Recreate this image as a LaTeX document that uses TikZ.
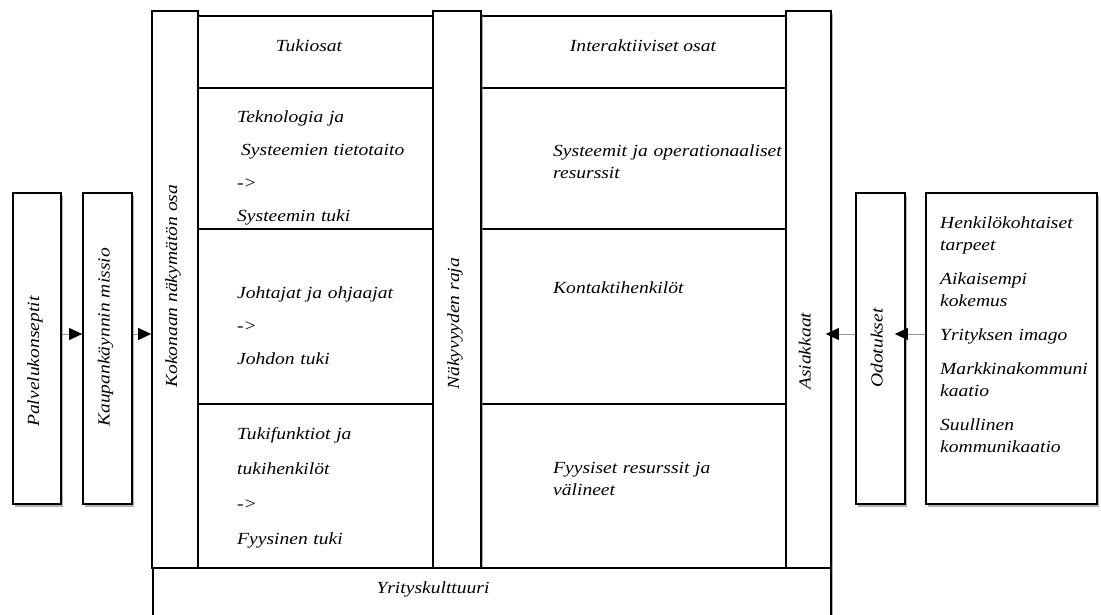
\documentclass[tikz,border=0pt]{standalone}
\usepackage{fontspec}
\usepackage{xcolor}
\usetikzlibrary{arrows.meta,shadows}
\newfontfamily\kuvafont{Liberation Serif}[FakeStretch=1.15]
\definecolor{viiva}{RGB}{150,150,150}
\tikzstyle{pylvas}=[draw, line width=1.7pt, fill=white, inner sep=0pt, drop shadow={shadow xshift=2pt, shadow yshift=-3pt, fill=black!50, opacity=.6}]
\tikzstyle{solu}=[draw, line width=1.4pt, fill=white, inner sep=0pt]
\tikzstyle{teksti}=[font=\kuvafont\itshape\fontsize{17}{22}\selectfont, inner sep=0pt, align=left]
\tikzstyle{pysty}=[teksti, rotate=90, anchor=mid west]
\tikzstyle{lohko}=[teksti, anchor=base west, text width=260pt]
\tikzstyle{pil}=[-{Triangle[length=13pt,width=12pt,black]}, draw=viiva, line width=1pt]

\begin{document}
\begin{tikzpicture}[x=1pt,y=-1pt]
  \useasboundingbox (0,0) rectangle (1101,614);
  \clip (0,0) rectangle (1101,614);

  %% Vasen puoli
  \draw (37,348.5) node[pylvas, minimum width=48pt, minimum height=311pt] (palv) {};
  \draw (107.5,348.5) node[pylvas, minimum width=49pt, minimum height=311pt] (missio) {};
  \draw (175,289.5) node[pylvas, minimum width=46pt, minimum height=557pt] (kokon) {};

  %% Solut
  \draw (315.5,52) node[solu, minimum width=235pt, minimum height=72pt] (tuki1) {};
  \draw (315.5,158.5) node[solu, minimum width=235pt, minimum height=141pt] (tuki2) {};
  \draw (315.5,316.5) node[solu, minimum width=235pt, minimum height=175pt] (tuki3) {};
  \draw (315.5,486) node[solu, minimum width=235pt, minimum height=164pt] (tuki4) {};

  \draw (633.5,52) node[solu, minimum width=305pt, minimum height=72pt] (inter1) {};
  \draw (633.5,158.5) node[solu, minimum width=305pt, minimum height=141pt] (inter2) {};
  \draw (633.5,316.5) node[solu, minimum width=305pt, minimum height=175pt] (inter3) {};
  \draw (633.5,486) node[solu, minimum width=305pt, minimum height=164pt] (inter4) {};

  \draw (457,289.5) node[pylvas, minimum width=48pt, minimum height=557pt] (raja) {};
  \draw (808.5,289.5) node[pylvas, minimum width=45pt, minimum height=557pt] (asiak) {};
  \draw (492,604) node[pylvas, minimum width=678pt, minimum height=72pt] (kulttuuri) {};

  %% Oikea puoli
  \draw (880.5,348.5) node[pylvas, minimum width=49pt, minimum height=311pt] (odot) {};
  \draw (1011.5,348.5) node[pylvas, minimum width=171pt, minimum height=311pt] (tekijat) {};

  %% Pystytekstit
  \draw (37,427) node[pysty] (palvt) {Palvelukonseptit};
  \draw (107.5,427) node[pysty] (missiot) {Kaupankäynnin missio};
  \draw (175,388) node[pysty] (kokont) {Kokonaan näkymätön osa};
  \draw (457,390) node[pysty] (rajat) {Näkyvyyden raja};
  \draw (808.5,390) node[pysty] (asiakt) {Asiakkaat};
  \draw (880.5,388) node[pysty] (odott) {Odotukset};

  %% Solujen tekstit
  \draw (309,51) node[teksti, anchor=base] (tuki1t) {Tukiosat};
  \draw (643,51) node[teksti, anchor=base] (inter1t) {Interaktiiviset osat};
  \draw (237,122) node[lohko, font=\kuvafont\itshape\fontsize{17}{33}\selectfont] (tuki2t)
    {Teknologia ja\\ \hspace*{4pt}Systeemien tietotaito\\ ->\\ Systeemin tuki};
  \draw (237,298) node[lohko, font=\kuvafont\itshape\fontsize{17}{33}\selectfont] (tuki3t)
    {Johtajat ja ohjaajat\\ ->\\ Johdon tuki};
  \draw (237,439) node[lohko, font=\kuvafont\itshape\fontsize{17}{35}\selectfont] (tuki4t)
    {Tukifunktiot ja\\ tukihenkilöt\\ ->\\ Fyysinen tuki};
  \draw (553,156) node[lohko] (inter2t) {Systeemit ja operationaaliset\\ resurssit};
  \draw (553,293) node[lohko] (inter3t) {Kontaktihenkilöt};
  \draw (553,473) node[lohko] (inter4t) {Fyysiset resurssit ja\\ välineet};
  \draw (433,593) node[teksti, anchor=base] (kulttuurit) {Yrityskulttuuri};
  \draw (940,228) node[lohko, text width=155pt] (tekijatt)
    {Henkilökohtaiset\\ tarpeet\\[12pt] Aikaisempi\\ kokemus\\[12pt] Yrityksen imago\\[12pt]
     Markkinakommuni\\ kaatio\\[12pt] Suullinen\\ kommunikaatio};

  %% Nuolet
  \draw[pil] ([yshift=14.5pt]palv.east) -- ([yshift=14.5pt]missio.west);
  \draw[pil] ([yshift=14.5pt]missio.east) -- ([yshift=14.5pt]missio.east -| kokon.west);
  \draw[pil, shorten >=-11pt] ([yshift=14.5pt]tekijat.west) -- ([yshift=14.5pt]odot.east);
  \draw[pil, shorten >=-6pt] ([yshift=14.5pt]odot.west) -- ([yshift=14.5pt]odot.west -| asiak.east);
\end{tikzpicture}
\end{document}
